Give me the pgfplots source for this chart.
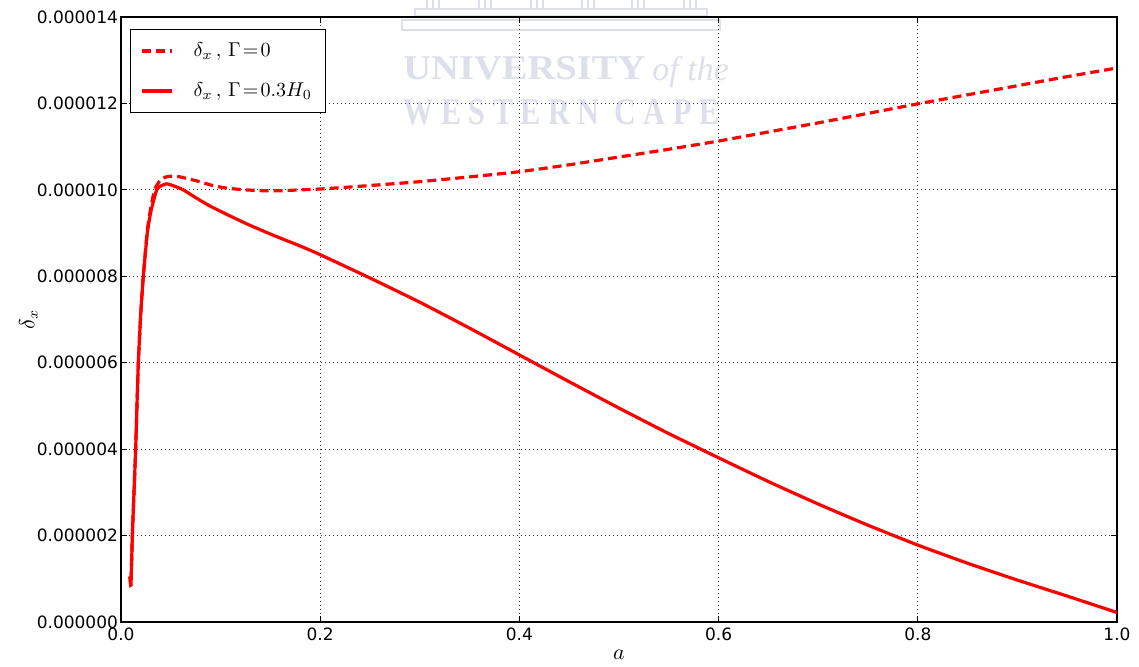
\documentclass[border=0pt]{standalone}
\usepackage{pgfplots}
\pgfplotsset{compat=1.18}
\usepackage{fontspec}
\setmainfont{DejaVu Sans}
\newfontfamily\wmfont{Liberation Serif}
\definecolor{wm}{RGB}{221,223,234}
\definecolor{mplred}{RGB}{255,0,0}

% delta_x in units of 1e-6
\pgfplotstableread{
a      d
0.0090 1.05
0.0100 0.86
0.0114 2.00
0.0147 4.00
0.0174 6.00
0.0200 7.20
0.0224 8.00
0.0264 9.05
0.0300 9.60
0.0340 10.02
0.0400 10.24
0.0470 10.31
0.0570 10.31
0.0650 10.27
0.0790 10.19
0.0920 10.10
0.1060 10.04
0.1250 10.00
0.1430 9.98
0.1600 9.98
0.1800 10.00
0.2000 10.02
0.2200 10.05
0.2500 10.10
0.3000 10.19
0.3500 10.30
0.4000 10.42
0.4500 10.58
0.5000 10.76
0.5500 10.94
0.6000 11.13
0.6500 11.34
0.7000 11.55
0.7500 11.77
0.8000 11.99
0.8500 12.20
0.9000 12.41
0.9500 12.62
1.0000 12.82
}\nodecay

\pgfplotstableread{
a      d
0.0090 1.05
0.0100 0.86
0.0114 2.00
0.0147 4.00
0.0174 6.00
0.0200 7.20
0.0224 8.00
0.0264 9.00
0.0300 9.50
0.0358 10.00
0.0400 10.09
0.0460 10.14
0.0520 10.10
0.0625 10.00
0.0750 9.82
0.0890 9.63
0.1100 9.39
0.1295 9.18
0.1550 8.93
0.1800 8.70
0.2000 8.50
0.2500 7.96
0.3000 7.40
0.3500 6.80
0.4000 6.18
0.4500 5.56
0.5000 4.95
0.5500 4.36
0.6000 3.80
0.6500 3.25
0.7000 2.73
0.7500 2.24
0.8000 1.78
0.8500 1.36
0.9000 0.97
0.9500 0.60
1.0000 0.22
}\withdecay

\begin{document}
\begin{tikzpicture}[x=0.5pt,y=0.5pt]
% watermark (drawn first, behind the plot); 1 unit = 1 px, origin at axis corner
\begin{scope}[shift={(-121,622)}, yscale=-1]
  \draw[wm, line width=1.2pt] (402,20) rectangle (720,30);
  \draw[wm, line width=1.2pt] (415,9) rectangle (707,16);
  \foreach \cx in {433,485,537,588,638,690}{
    \draw[wm, line width=1pt] (\cx-6,0) -- (\cx-6,9);
    \draw[wm, line width=1pt] (\cx,0) -- (\cx,9);
    \draw[wm, line width=1pt] (\cx+6,0) -- (\cx+6,9);
  }
\end{scope}
\node[anchor=south west, inner sep=0pt, text=wm] at (282,542)
  {\resizebox{121pt}{11.5pt}{\wmfont\bfseries UNIVERSITY}};
\node[anchor=base west, inner sep=0pt, text=wm] at (531,542)
  {\wmfont\itshape\fontsize{17}{17}\selectfont of the};
\node[anchor=south west, inner sep=0pt, text=wm] at (282,497)
  {\resizebox{158pt}{12.5pt}{\wmfont\bfseries W E S T E R N\ \ C A P E}};

\begin{axis}[
  name=ax,
  at={(0,0)}, anchor=south west,
  scale only axis,
  width=498pt, height=302.5pt,
  xmin=0, xmax=1, ymin=0, ymax=14,
  xtick={0,0.2,0.4,0.6,0.8,1.0},
  xticklabels={0.0,0.2,0.4,0.6,0.8,1.0},
  ytick={0,2,4,6,8,10,12,14},
  yticklabels={0.000000,0.000002,0.000004,0.000006,0.000008,0.000010,0.000012,0.000014},
  tick align=inside,
  tick pos=both,
  major tick length=3pt,
  minor tick num=0,
  tick style={black, line width=0.5pt},
  axis line style={black, line width=0.6pt},
  grid=major,
  major grid style={black!80, line width=0.5pt, dash pattern=on 0.5pt off 1.5pt},
  ticklabel style={font=\fontsize{8.5}{10}\selectfont},
  xticklabel style={yshift=0.5pt},
  yticklabel style={xshift=2pt},
  xlabel={$a$},
  ylabel={$\delta_x$},
  xlabel style={at={(axis description cs:0.5,-0.055)}, anchor=center, font=\fontsize{10.5}{12}\selectfont},
  ylabel style={at={(axis description cs:-0.093,0.5)}, anchor=center, font=\fontsize{10.5}{12}\selectfont},
  legend style={
    at={(axis description cs:0.009,0.980)}, anchor=north west,
    draw=black, line width=0.5pt, fill=white,
    inner xsep=5pt, inner ysep=4.5pt,
    row sep=7.5pt,
    font=\fontsize{10.4}{12}\selectfont,
    /tikz/every even column/.append style={column sep=0pt},
  },
  legend cell align=left,
  legend image code/.code={\draw[#1, line width=1.6pt] (0pt,0pt) -- (15pt,0pt);},
  legend columns=1,
]
\addplot[mplred, line width=1.6pt, smooth, tension=0.3, dash pattern=on 4.5pt off 2.5pt] table[x=a,y=d] {\nodecay};
\addlegendentry{\hspace{8pt}$\delta_x\,,\,\Gamma\!=\!0$}
\addplot[mplred, line width=1.6pt, smooth, tension=0.3] table[x=a,y=d] {\withdecay};
\addlegendentry{\hspace{8pt}$\delta_x\,,\,\Gamma\!=\!0.3H_0$}
\end{axis}
\pgfresetboundingbox
\path[use as bounding box] (-121,-44) rectangle (1018,622);
\end{tikzpicture}
\end{document}
